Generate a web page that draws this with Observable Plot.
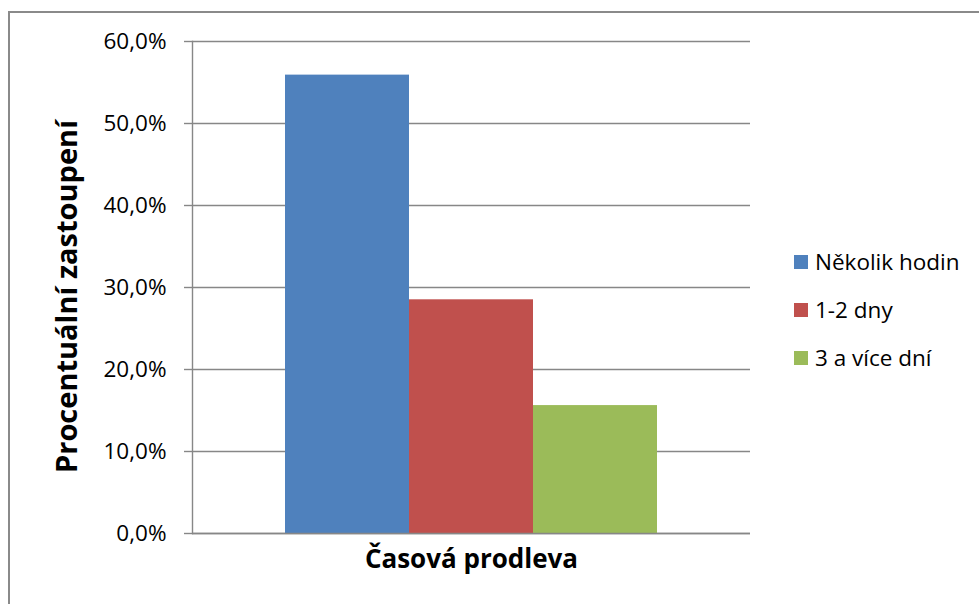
<!DOCTYPE html>
<html>
<head>
<meta charset="utf-8">
<script src="https://cdn.jsdelivr.net/npm/d3@7"></script>
<script src="https://cdn.jsdelivr.net/npm/@observablehq/plot@0.6"></script>
<style>
  html, body { margin: 0; padding: 0; background: #fff; }
  #chart { position: relative; width: 979px; height: 604px; overflow: hidden; font-family: "Open Sans", sans-serif; }
  #chart .border { position: absolute; left: 8px; top: 11px; width: 1000px; height: 1000px;
    border-left: 2px solid #8a8a8a; border-top: 2px solid #8a8a8a; box-sizing: border-box; }
  #chart svg { position: absolute; left: 0; top: 0; }
  #legend { position: absolute; left: 794px; top: 238px; font-size: 22.5px; color: #000; }
  #legend .item { display: flex; align-items: center; height: 48px; line-height: 1; }
  #legend .sw { width: 14px; height: 14px; margin-right: 7px; }
</style>
</head>
<body>
<div id="chart"><div class="border"></div></div>
<script>
// Time delay categories and their percentage shares
const categories = ["Několik hodin", "1-2 dny", "3 a více dní"];
const shares = [55.9, 28.5, 15.6];
const colors = ["#4f81bd", "#c0504d", "#9bbb59"];
const yTicks = [0, 10, 20, 30, 40, 50, 60];
const xTitle = "Časová prodleva";
const yTitle = "Procentuální zastoupení";

const data = categories.map((c, i) => ({category: c, share: shares[i]}));
const fmt = d => d.toFixed(1).replace(".", ",") + "%";

const plot = Plot.plot({
  width: 979,
  height: 604,
  marginLeft: 192,
  marginRight: 229,
  marginTop: 41,
  marginBottom: 71,
  style: {fontFamily: "'Open Sans', sans-serif", fontSize: "22px", color: "#000", background: "transparent"},
  x: {domain: categories, paddingInner: 0, paddingOuter: 0.75, axis: null},
  y: {domain: [0, 60], ticks: yTicks, tickFormat: fmt, label: null},
  color: {domain: categories, range: colors},
  marks: [
    Plot.gridY(yTicks, {stroke: "#878787", strokeOpacity: 1, strokeWidth: 1.4}),
    Plot.axisY(yTicks, {tickSize: 8, tickPadding: 18, stroke: "#878787", strokeWidth: 1.4, tickFormat: fmt, label: null, fontSize: 22.5}),
    Plot.barY(data, {x: "category", y: "share", fill: "category", inset: 0}),
    Plot.ruleY([0], {stroke: "#878787", strokeWidth: 1.4}),
    Plot.frame({anchor: "left", stroke: "#878787", strokeWidth: 1.4}),
    Plot.text([xTitle], {frameAnchor: "bottom", dy: 34, fontWeight: "bold", fontSize: 26, fill: "#000"}),
    Plot.text([yTitle], {frameAnchor: "left", textAnchor: "middle", rotate: -90, dx: -125, dy: 9, fontWeight: "bold", fontSize: 29, fill: "#000"})
  ]
});
const chart = document.getElementById("chart");
chart.appendChild(plot);

// Legend built from the same categories and colours
const legend = document.createElement("div");
legend.id = "legend";
categories.forEach((c, i) => {
  const item = document.createElement("div");
  item.className = "item";
  const sw = document.createElement("span");
  sw.className = "sw";
  sw.style.background = colors[i];
  const label = document.createElement("span");
  label.textContent = c;
  item.appendChild(sw);
  item.appendChild(label);
  legend.appendChild(item);
});
chart.appendChild(legend);
</script>
</body>
</html>
